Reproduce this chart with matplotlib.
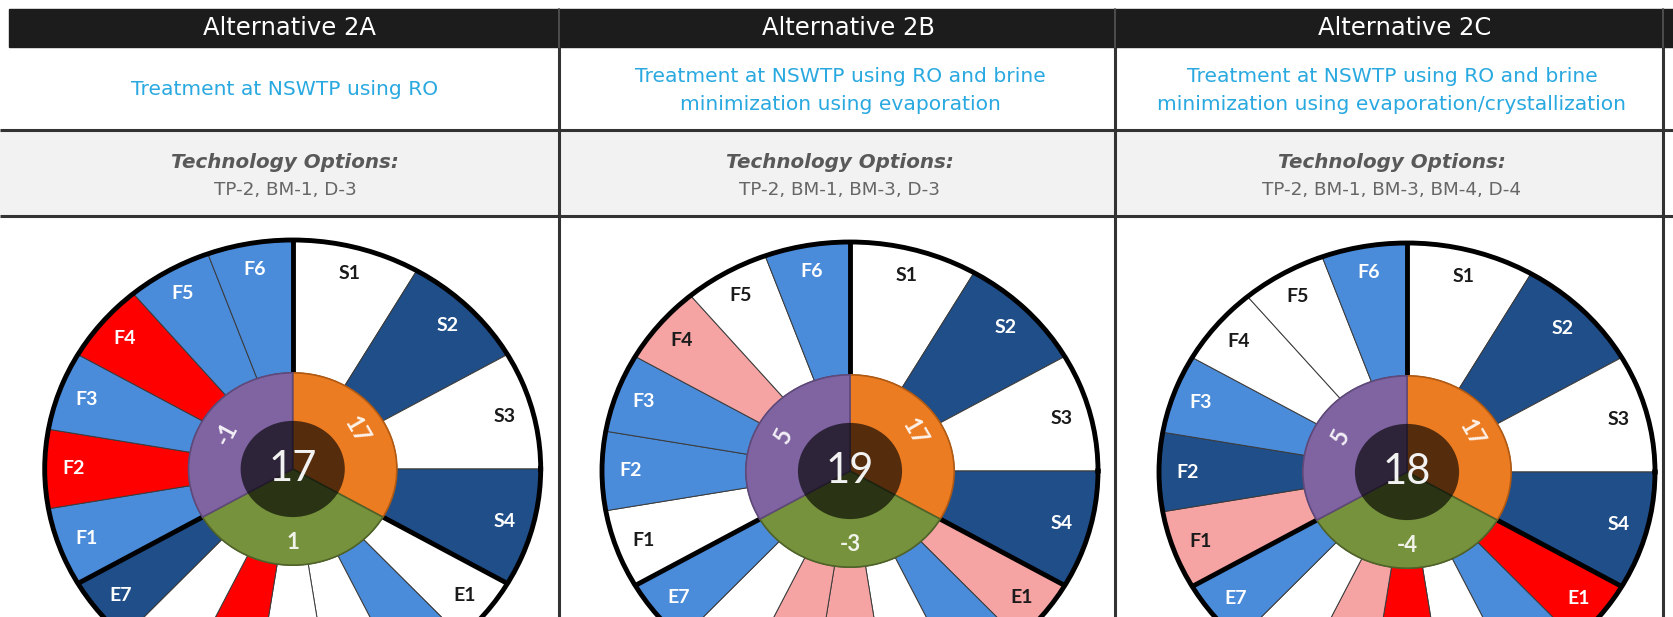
import numpy as np
import matplotlib
matplotlib.use('Agg')
import matplotlib.pyplot as plt
from matplotlib.patches import Rectangle

W, H = 1674, 617

# ---------------- data ----------------
alternatives = ['Alternative 2A', 'Alternative 2B', 'Alternative 2C']
descriptions = [['Treatment at NSWTP using RO'],
                ['Treatment at NSWTP using RO and brine', 'minimization using evaporation'],
                ['Treatment at NSWTP using RO and brine',
                 'minimization using evaporation/crystallization']]
tech_options = ['TP-2, BM-1, D-3', 'TP-2, BM-1, BM-3, D-3', 'TP-2, BM-1, BM-3, BM-4, D-4']

social_labels = ['S1', 'S2', 'S3', 'S4']
env_labels = ['E1', 'E2', 'E3', 'E4', 'E5', 'E6', 'E7']
fin_labels = ['F1', 'F2', 'F3', 'F4', 'F5', 'F6']

# scores: 2 dark blue, 1 light blue, 0 white, -1 pink, -2 red
social_scores = [[0, 2, 0, 2], [0, 2, 0, 2], [0, 2, 0, 2]]
env_scores = [[0, 1, 0, 0, -2, 0, 2],
              [-1, 1, 0, -1, -1, 0, 1],
              [-2, 1, 0, -2, -1, 0, 1]]
fin_scores = [[1, -2, 1, -2, 1, 1],
              [0, 1, 1, -1, 0, 1],
              [-1, 2, 1, 0, 0, 1]]

social_totals = [17, 17, 17]
env_totals = [1, -3, -4]
fin_totals = [-1, 5, 5]
overall_totals = [17, 19, 18]

# ---------------- styles ----------------
score_colors = {2: '#1F4E89', 1: '#4A8BDA', 0: '#FFFFFF', -1: '#F5A3A3', -2: '#FF0000'}
score_text = {2: 'white', 1: 'white', 0: '#1a1a1a', -1: '#1a1a1a', -2: 'white'}
ring_colors = ['#EC7C22', '#76923C', '#8064A2']
ring_edges = ['#B35A12', '#4F6228', '#5F497A']

fig = plt.figure(figsize=(W / 100, H / 100), dpi=100)
bg = fig.add_axes([0, 0, 1, 1])
bg.set_xlim(0, W)
bg.set_ylim(H, 0)
bg.axis('off')

# table structure
bg.add_patch(Rectangle((9, 8.5), W - 9, 38, color='#1c1c1c', zorder=1))
bg.add_patch(Rectangle((0, 130), 1663, 86, color='#F2F2F2', zorder=1))
for y in (130, 216):
    bg.plot([0, W], [y, y], color='#333333', lw=2.2, zorder=2, solid_capstyle='butt')
for x in (559, 1114.6, 1663):
    bg.plot([x, x], [46.5, H], color='#333333', lw=2.2, zorder=2, solid_capstyle='butt')
    bg.plot([x, x], [8.5, 46.5], color='#555555', lw=1.2, zorder=2)

header_x = [290, 849, 1405]
body_x = [285, 840, 1392]
for i in range(3):
    bg.text(header_x[i], 28, alternatives[i], color='white', fontsize=17.5,
            ha='center', va='center', zorder=3)
    lines = descriptions[i]
    ys = [89.5] if len(lines) == 1 else [76.5, 104.5]
    for ln, yy in zip(lines, ys):
        bg.text(body_x[i], yy, ln, color='#2AA9E0', fontsize=14.6,
                ha='center', va='center', zorder=3)
    bg.text(body_x[i], 162, 'Technology Options:', color='#595959', fontsize=14.3,
            fontweight='bold', fontstyle='italic', ha='center', va='center', zorder=3)
    bg.text(body_x[i], 190, tech_options[i], color='#666666', fontsize=13.2,
            ha='center', va='center', zorder=3)

# ---------------- wheels ----------------
cxs = [292.7, 850, 1407]
cys = [469, 471, 472]
Rh, Rv = 248, 229
r_ring, r_core = 0.42, 0.21
r_lab = 0.885


def seg_centers(start, n):
    w = 120.0 / n
    return [start - w * (k + 0.5) for k in range(n)], w


for i in range(3):
    cx, cy = cxs[i], cys[i]
    ax = fig.add_axes([(cx - Rh) / W, 1 - (cy + Rv) / H, 2 * Rh / W, 2 * Rv / H],
                      projection='polar')
    ax.set_aspect('auto')
    ax.set_ylim(0, 1)
    ax.grid(False)
    ax.set_xticks([])
    ax.set_yticks([])
    ax.set_facecolor('white')
    ax.spines['polar'].set_linewidth(3.5)
    ax.spines['polar'].set_color('black')

    groups = [(90, social_labels, social_scores[i]),
              (-30, env_labels, env_scores[i]),
              (-150, fin_labels, fin_scores[i])]
    for start, labels, scores in groups:
        centers, w = seg_centers(start, len(labels))
        th = np.deg2rad(centers)
        ax.bar(th, 1 - r_ring, width=np.deg2rad(w), bottom=r_ring,
               color=[score_colors[s] for s in scores], edgecolor='#3a3a3a',
               linewidth=0.7, zorder=2)
        for t, lab, s in zip(th, labels, scores):
            # labels lying below the lower edge of the picture are cropped away
            y_px = cy - r_lab * Rv * np.sin(t)
            if y_px > H - 12:
                continue
            ax.text(t, r_lab, lab, color=score_text[s], fontsize=14, fontweight='bold',
                    family='Lato', ha='center', va='center', zorder=6)
    for b in (90, -30, -150):
        ax.plot([np.deg2rad(b)] * 2, [r_ring - 0.01, 1], color='black', lw=3.5,
                zorder=3, solid_capstyle='butt')

    # inner ring
    ax.bar(np.deg2rad([30, -90, 150]), r_ring, width=np.deg2rad(120), bottom=0,
           color=ring_colors, edgecolor=ring_edges, linewidth=1.2, zorder=4)
    ax.bar(0, r_core, width=2 * np.pi, bottom=0, color='black', alpha=0.64,
           linewidth=0, zorder=5)

    ax.text(np.deg2rad(33), 0.31, str(social_totals[i]), color='white', alpha=0.9,
            fontsize=17, fontweight='bold', family='Lato', rotation=-60,
            ha='center', va='center', zorder=6)
    ax.text(np.deg2rad(150), 0.31, str(fin_totals[i]), color='white', alpha=0.9,
            fontsize=17, fontweight='bold', family='Lato', rotation=62,
            ha='center', va='center', zorder=6)
    ax.text(np.deg2rad(-90), 0.32, str(env_totals[i]), color='white', alpha=0.9,
            fontsize=16, fontweight='bold', family='Lato',
            ha='center', va='center', zorder=6)
    ax.text(0, 0, str(overall_totals[i]), color='#F2F2F2', fontsize=30,
            family='Lato', ha='center', va='center', zorder=7)

fig.savefig('out.png', dpi=100, facecolor='white')
